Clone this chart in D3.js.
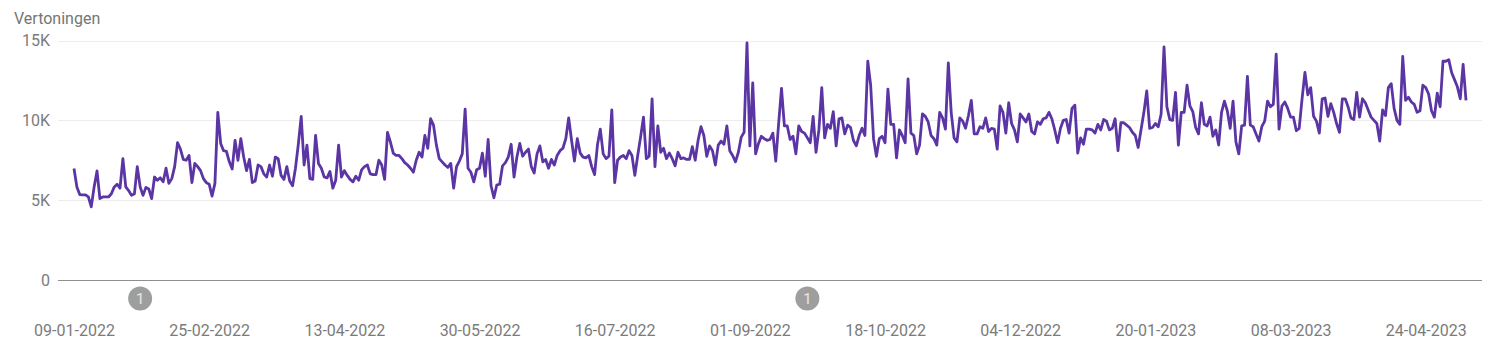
<!DOCTYPE html>
<html><head><meta charset="utf-8">
<script src="https://cdn.jsdelivr.net/npm/d3@7/dist/d3.min.js"></script>
<style>html,body{margin:0;padding:0;background:#fff}svg{display:block}text{font-family:Roboto,sans-serif}</style>
</head><body><div id="chart"></div>
<script>
const startDate = "2022-01-09";
const yTicks = [0, 5, 10, 15];
const yTickLabels = ["0", "5K", "10K", "15K"];
const xTickDates = ["2022-01-09","2022-02-25","2022-04-13","2022-05-30","2022-07-16","2022-09-01","2022-10-18","2022-12-04","2023-01-20","2023-03-08","2023-04-24"];
const xTickLabels = ["09-01-2022","25-02-2022","13-04-2022","30-05-2022","16-07-2022","01-09-2022","18-10-2022","04-12-2022","20-01-2023","08-03-2023","24-04-2023"];
const annotationDates = ["2022-02-01","2022-09-21"];
const annotationLabels = ["1","1"];
const seriesName = "Vertoningen";
// daily impressions, in thousands
const impressions = [
6.98,5.83,5.35,5.33,5.33,5.2,4.58,5.83,6.83,5.1,5.2,5.2,5.2,5.4,5.83,6.0,5.75,7.6,5.83,5.6,
5.3,5.4,7.1,5.83,5.3,5.8,5.7,5.1,6.45,6.25,6.4,6.15,7.0,6.05,6.35,7.1,8.6,8.2,7.55,7.5,
7.8,6.1,7.3,7.1,6.85,6.35,6.1,6.0,5.25,6.05,10.5,8.55,8.1,8.05,7.4,6.95,8.75,7.5,8.85,7.7,
6.85,7.55,6.1,6.2,7.2,7.1,6.65,6.45,7.2,6.5,7.7,7.6,6.55,6.3,7.1,6.2,5.9,7.0,8.5,10.25,
7.2,8.45,6.35,6.3,9.05,7.3,7.0,6.45,6.4,6.8,5.75,6.25,8.45,6.45,6.85,6.55,6.3,6.15,6.5,6.25,
6.9,7.1,7.2,6.65,6.6,6.6,7.5,7.2,6.3,9.25,8.65,7.95,7.8,7.8,7.6,7.35,7.2,7.0,6.75,7.5,
8.0,7.7,9.05,8.25,10.1,9.7,8.45,7.6,7.4,7.2,7.05,7.3,5.75,7.1,7.45,7.9,10.7,7.0,6.75,6.15,
6.9,7.0,7.95,6.5,8.8,5.9,5.15,5.95,6.0,7.15,7.35,7.7,8.5,6.45,7.7,8.55,7.75,8.0,8.2,7.1,
6.7,7.9,8.4,7.4,7.55,7.0,7.55,7.2,7.8,8.1,8.25,8.85,10.15,8.75,7.45,8.85,7.95,7.7,7.65,7.8,
7.1,6.6,8.45,9.45,7.9,7.6,7.75,10.65,6.1,7.5,7.7,7.8,7.6,8.1,7.8,6.55,7.8,8.95,10.2,7.6,
7.75,11.35,7.1,9.65,8.0,8.25,7.6,7.95,7.6,7.15,8.0,7.6,7.65,7.55,7.55,8.35,7.5,8.75,9.6,9.05,
7.75,8.4,8.1,7.2,8.45,8.7,8.5,9.65,8.1,7.8,7.4,8.0,8.95,9.25,14.85,8.4,12.35,7.9,8.55,9.0,
8.85,8.75,8.8,9.2,7.45,9.8,12.0,9.65,9.65,8.8,9.0,7.9,9.65,9.3,9.2,8.9,8.6,10.25,8.0,9.4,
12.05,8.9,9.75,9.5,10.55,8.4,10.1,10.15,9.15,9.7,9.55,8.75,8.4,9.05,9.5,9.05,13.7,12.2,8.85,7.75,
8.85,9.0,8.6,11.95,9.75,9.75,7.65,9.4,9.05,8.6,12.6,9.2,9.05,7.9,8.45,10.4,10.25,9.9,9.05,8.85,
8.45,10.5,10.15,9.45,13.6,10.5,8.9,8.65,10.15,9.95,9.5,10.3,11.25,9.15,9.15,9.6,9.5,10.15,9.3,9.5,
9.45,8.2,10.9,10.5,9.2,11.1,9.8,9.4,8.65,10.4,10.15,9.9,10.4,9.3,9.15,9.9,9.75,10.1,10.15,10.5,
10.1,9.4,8.6,9.5,10.0,10.05,9.2,10.75,10.95,7.95,8.9,8.5,9.45,9.45,9.4,9.2,9.75,9.4,10.05,9.95,
9.4,9.5,10.1,8.1,9.85,9.85,9.7,9.55,9.25,9.05,8.3,9.4,10.5,11.85,9.5,9.55,9.8,9.6,10.4,14.6,
10.85,10.05,10.0,11.75,8.45,10.5,10.5,12.2,10.9,10.55,9.55,9.15,11.1,9.75,9.65,10.2,9.0,9.4,8.45,10.5,
11.2,10.6,9.5,11.2,8.65,7.9,9.65,9.7,12.75,9.7,9.6,9.15,8.7,9.6,9.95,11.2,10.85,11.0,14.15,9.45,
10.9,11.15,10.75,10.2,10.2,9.35,9.5,11.35,13.0,11.6,12.05,10.25,9.95,9.2,11.35,11.4,10.25,11.05,10.5,9.8,
9.25,11.35,11.35,10.85,10.15,10.05,11.75,10.2,11.35,11.1,10.65,10.2,10.0,9.8,8.7,10.65,10.3,12.05,12.3,10.75,
10.0,9.75,14.0,11.25,11.45,11.15,11.0,10.5,10.6,12.2,12.05,11.65,10.6,10.2,11.7,10.85,13.7,13.7,13.8,13.0,
12.55,12.1,11.35,13.5,11.25
];

const width = 1500, height = 358;
const parse = d3.utcParse("%Y-%m-%d");
const dayCount = impressions.length;
const t0 = parse(startDate);
const dates = impressions.map((_, i) => d3.utcDay.offset(t0, i));

const x = d3.scaleUtc().domain([t0, dates[dayCount - 1]]).range([74, 1466]);
const y = d3.scaleLinear().domain([0, 15]).range([280, 40.5]);

const svg = d3.select("#chart").append("svg").attr("width", width).attr("height", height);

svg.append("text").attr("x", 14).attr("y", 23.5).attr("font-size", 16).attr("fill", "#757575").text(seriesName);

const yAxis = d3.axisLeft(y).tickValues(yTicks).tickFormat((d, i) => yTickLabels[i]).tickSize(0).tickPadding(0);
const gy = svg.append("g").attr("transform", "translate(50,0)").call(yAxis);
gy.select(".domain").remove();
gy.selectAll("text").attr("font-size", 16).attr("fill", "#7b7b7b").attr("font-family", "Roboto, sans-serif");

svg.append("g").selectAll("line").data(yTicks).join("line")
  .attr("x1", 58).attr("x2", 1482)
  .attr("y1", d => Math.round(y(d)) + 0.5).attr("y2", d => Math.round(y(d)) + 0.5)
  .attr("stroke", d => d === 0 ? "#8f8f8f" : "#ececec").attr("stroke-width", 1);

const xAxis = d3.axisBottom(x).tickValues(xTickDates.map(parse)).tickFormat((d, i) => xTickLabels[i]).tickSize(0).tickPadding(0);
const gx = svg.append("g").attr("transform", "translate(0,325)").call(xAxis);
gx.select(".domain").remove();
gx.selectAll("text").attr("font-size", 16).attr("fill", "#7b7b7b").attr("font-family", "Roboto, sans-serif");

const line = d3.line().x((d, i) => x(dates[i])).y(d => y(d)).curve(d3.curveLinear);
svg.append("path").datum(impressions).attr("d", line).attr("fill", "none")
  .attr("stroke", "#5b35a3").attr("stroke-width", 2.8).attr("stroke-linejoin", "round");

const ann = svg.append("g").selectAll("g").data(annotationDates).join("g")
  .attr("transform", d => `translate(${x(parse(d))},298.5)`);
ann.append("circle").attr("r", 12).attr("fill", "#9e9e9e");
ann.append("text").attr("text-anchor", "middle").attr("y", 5.5).attr("font-size", 15).attr("fill", "#e8e8e8")
  .text((d, i) => annotationLabels[i]);
</script></body></html>
